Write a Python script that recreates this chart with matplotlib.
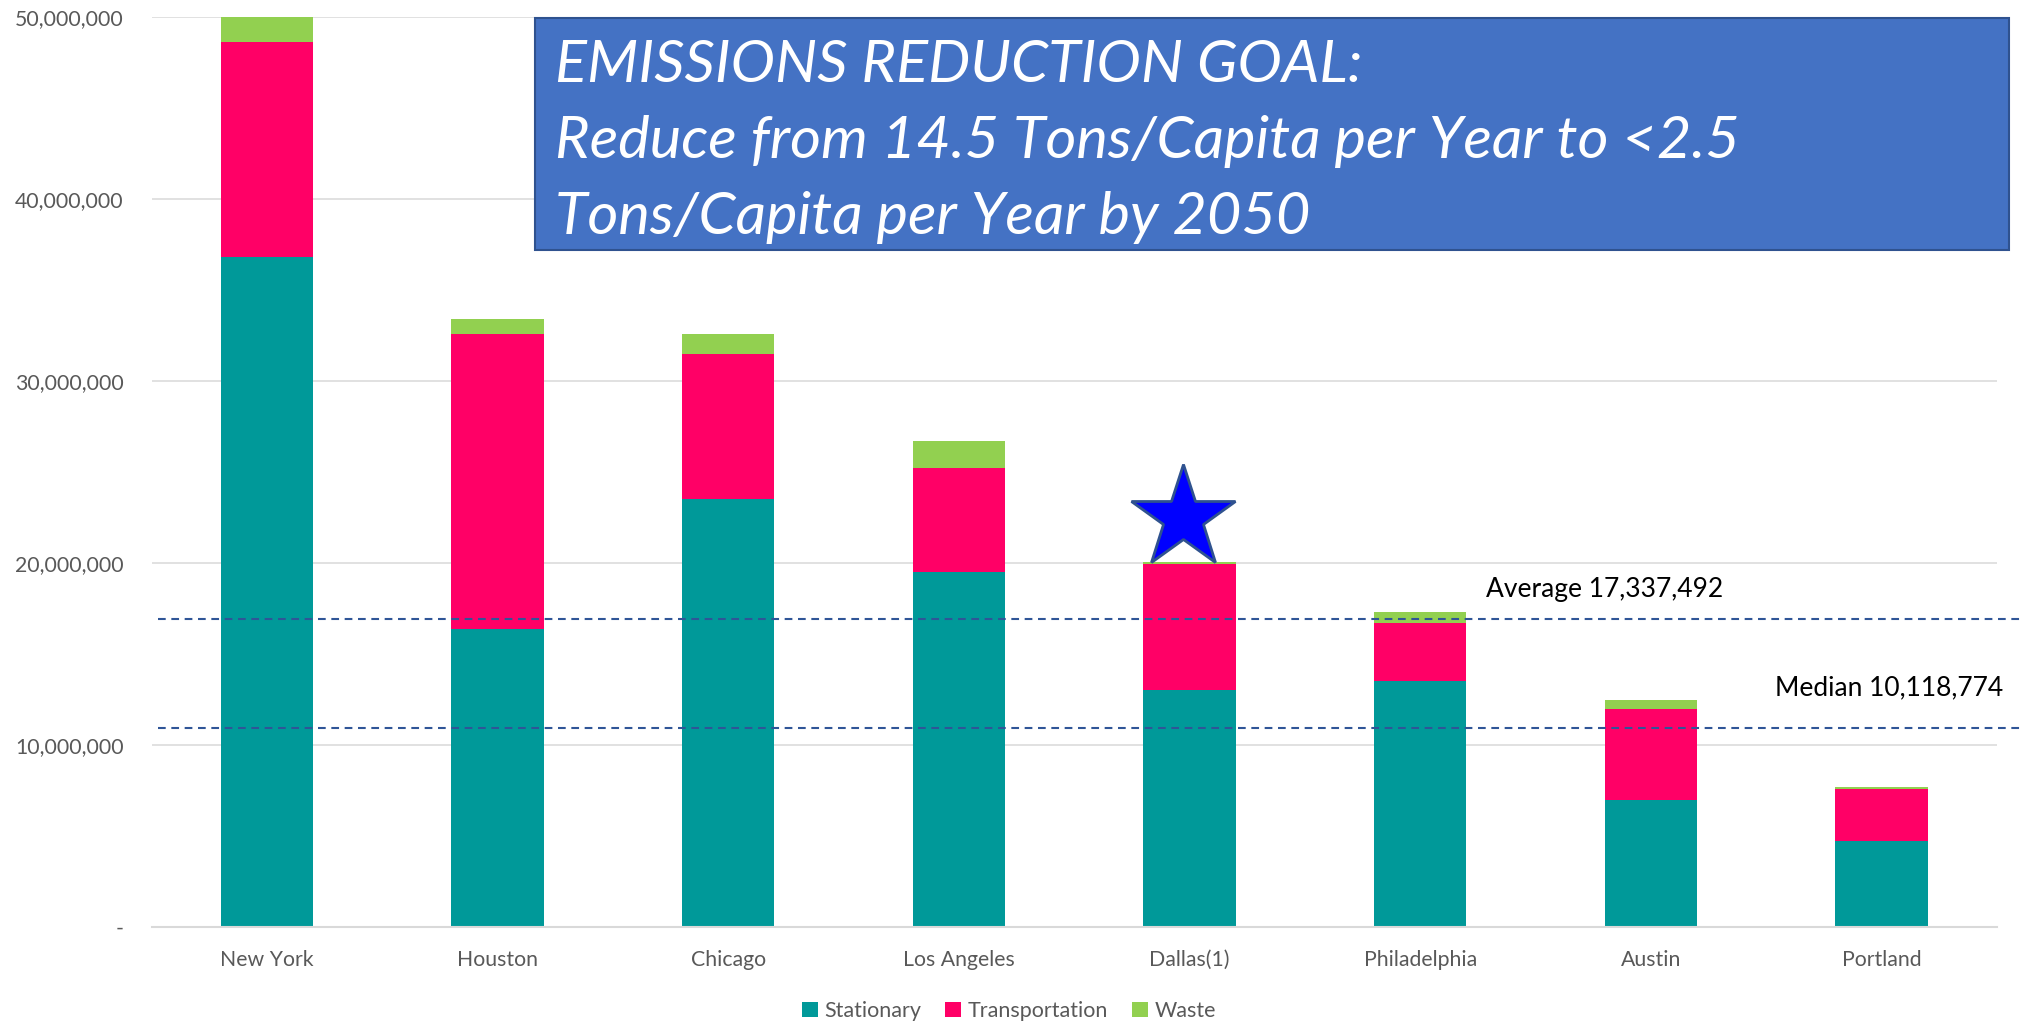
#!/usr/bin/env python3

import matplotlib

matplotlib.use("Agg")
import matplotlib.pyplot as plt
import matplotlib.ticker as ticker
from matplotlib.patches import Rectangle, Patch

# Emissions by city (metric tons CO2e)
cities = ["New York", "Houston", "Chicago", "Los Angeles", "Dallas(1)",
          "Philadelphia", "Austin", "Portland"]
stationary = [36_800_000, 16_400_000, 23_500_000, 19_500_000, 13_000_000,
              13_500_000, 7_000_000, 4_740_000]
transportation = [11_800_000, 16_200_000, 8_000_000, 5_700_000, 6_950_000,
                  3_200_000, 5_000_000, 2_840_000]
waste = [1_400_000, 800_000, 1_100_000, 1_500_000, 120_000,
         620_000, 500_000, 130_000]

series_names = ["Stationary", "Transportation", "Waste"]
series_colors = ["#009999", "#FF0066", "#92D050"]

# reference lines as drawn in the chart, with their labels
ref_lines = [16_920_000, 10_930_000]
ref_labels = ["Average 17,337,492", "Median 10,118,774"]

highlight_city = "Dallas(1)"

goal_lines = [
    "EMISSIONS REDUCTION GOAL:",
    "Reduce from 14.5 Tons/Capita per Year to <2.5",
    "Tons/Capita per Year by 2050",
]

GRID = "#D9D9D9"
TICK = "#595959"
DASH = "#2F5597"


def main():
    fig = plt.figure(figsize=(20.2, 10.23), dpi=100)
    ax = fig.add_axes([0.075, 0.0938, 0.9136, 0.8896])

    x = list(range(len(cities)))
    width = 0.4
    bottom = [0] * len(cities)
    for name, vals, color in zip(series_names, [stationary, transportation, waste], series_colors):
        ax.bar(x, vals, width, bottom=bottom, color=color, label=name, zorder=2)
        bottom = [b + v for b, v in zip(bottom, vals)]

    ax.set_xlim(-0.5, len(cities) - 0.5)
    ax.set_ylim(0, 50_000_000)
    ax.set_yticks(range(0, 50_000_001, 10_000_000))
    ax.yaxis.set_major_formatter(
        ticker.FuncFormatter(lambda v, p: "-" if v == 0 else f"{int(v):,}")
    )
    ax.set_xticks(x)
    ax.set_xticklabels(cities)
    ax.tick_params(axis="both", length=0, labelsize=15.3, labelcolor=TICK)
    ax.tick_params(axis="y", pad=20)
    ax.tick_params(axis="x", pad=16.5)
    for lbl in ax.get_xticklabels() + ax.get_yticklabels():
        lbl.set_family("Lato")

    ax.grid(axis="y", color=GRID, linewidth=1.1, zorder=0)
    ax.set_axisbelow(True)
    for side in ["top", "right", "left"]:
        ax.spines[side].set_visible(False)
    ax.spines["bottom"].set_color(GRID)
    ax.spines["bottom"].set_linewidth(1.5)

    # average / median dashed lines running past the plot to the figure edge
    trans = ax.get_yaxis_transform()
    for yv in ref_lines:
        ax.plot([0.0035, 1.0125], [yv, yv], transform=trans, clip_on=False,
                color=DASH, linewidth=1.5, linestyle=(0, (3.7, 2.7)), zorder=3)
    ax.text(5.285, 18_130_000, ref_labels[0], fontsize=19, family="Lato",
            color="black", va="baseline", ha="left")
    ax.text(6.537, 12_750_000, ref_labels[1], fontsize=19, family="Lato",
            color="black", va="baseline", ha="left", clip_on=False)

    # star over the highlighted city
    i = cities.index(highlight_city)
    ax.plot(i - 0.03, bottom[i] + 2_400_000, marker="*", markersize=78,
            markerfacecolor="#0000FF", markeredgecolor="#2F528F",
            markeredgewidth=2, linestyle="none", zorder=5, clip_on=False)

    # goal box
    box = Rectangle((535 / 2020, 1 - 250 / 1023), (2009 - 535) / 2020, 232 / 1023,
                    transform=fig.transFigure, facecolor="#4472C4",
                    edgecolor="#2F528F", linewidth=1.5, zorder=10)
    fig.patches.append(box)
    for k, line in enumerate(goal_lines):
        fig.text(555 / 2020, 1 - (82 + 76 * k) / 1023, line, fontsize=42.8,
                 family="Lato", style="italic", color="white",
                 va="baseline", ha="left", zorder=11)

    handles = [Patch(facecolor=c, label=n) for n, c in zip(series_names, series_colors)]
    fig.legend(handles=handles, loc="center", bbox_to_anchor=(0.4995, 0.0117),
               ncol=3, frameon=False, handlelength=0.75,
               handleheight=0.75, handletextpad=0.3, columnspacing=1.1,
               prop={"family": "Lato", "size": 15.5}, labelcolor=TICK)

    fig.savefig("out.png", dpi=100)
    plt.close(fig)


if __name__ == "__main__":
    main()
